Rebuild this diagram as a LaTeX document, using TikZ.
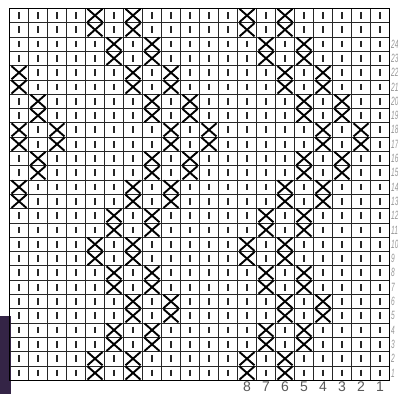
\documentclass[tikz,border=0pt]{standalone}
\usepackage{fontspec}
\setsansfont{Liberation Sans}
\usepackage{xcolor}
\usetikzlibrary{calc}
\definecolor{manchaEscura}{RGB}{52,36,70}
\tikzset{
    grade/.style={line width=0.6pt, draw=black!85},
    moldura/.style={line width=1pt, draw=black},
    traco/.style={line width=2.2pt, draw=black!85},
    cruz/.style={line width=1.9pt, draw=black},
    numeroBase/.style={
        font=\sffamily\fontsize{14}{14}\selectfont,
        text=black!65,
        inner sep=0pt,
        anchor=north
    },
    numeroLado/.style={
        font=\sffamily\itshape\fontsize{12}{12}\selectfont,
        text=black!40,
        inner sep=0pt,
        anchor=west
    }
}
% cell size of the chart
\newcommand{\largCel}{19}
\newcommand{\altCel}{14.3}

\begin{document}
\begin{tikzpicture}[x=1pt, y=-1pt]
    \useasboundingbox (0,0) rectangle (398,394);
    \coordinate (canto) at (9.5,8.3);
    % dark smear in the corner of the scan
    \fill[manchaEscura] (0,316) rectangle (10.5,394);
    % which cells of each pair of rows carry a cross
    \foreach \k/\cols in {1/{5,7,13,15}, 2/{6,8,14,16}, 3/{1,7,9,15,17},
                          4/{2,8,10,16,18}, 5/{1,3,9,11,17,19}, 6/{2,8,10,16,18},
                          7/{1,7,9,15,17}, 8/{6,8,14,16}, 9/{5,7,13,15},
                          10/{6,8,14,16}, 11/{7,9,15,17}, 12/{6,8,14,16},
                          13/{5,7,13,15}} {
        \foreach \c in \cols {
            \expandafter\xdef\csname cruz-\k-\c\endcsname{1}
        }
    }
    % grid
    \foreach \c in {1,...,19}
        \draw[grade] ($(canto)+(\c*\largCel,0)$) -- ++(0,26*\altCel);
    \foreach \r in {1,...,25}
        \draw[grade] ($(canto)+(0,\r*\altCel)$) -- ++(20*\largCel,0);
    \draw[moldura] (canto) rectangle ++(20*\largCel,26*\altCel);
    % stitches
    \foreach \r in {1,...,26} {
        \foreach \c in {1,...,20} {
            \pgfmathtruncatemacro{\k}{(\r+1)/2}
            \coordinate (m) at ($(canto)+({(\c-0.5)*\largCel},{(\r-0.5)*\altCel})$);
            \ifcsname cruz-\k-\c\endcsname
                \draw[cruz] ($(m)+(-7.5,-6.6)$) -- ($(m)+(7.5,6.6)$);
                \draw[cruz] ($(m)+(-7.5,6.6)$) -- ($(m)+(7.5,-6.6)$);
            \else
                \draw[traco] ($(m)+(0,-3.4)$) -- ($(m)+(0,3.4)$);
            \fi
        }
    }
    % stitch numbers below
    \foreach \n in {1,...,8}
        \node[numeroBase] (base-\n) at ($(canto)+({(20.5-\n)*\largCel},26*\altCel+1.8)$) {\n};
    % row numbers on the right, squeezed into the margin
    \foreach \n in {1,...,24}
        \node[numeroLado] (lado-\n) at ($(canto)+(20*\largCel+1.5,{(26.5-\n)*\altCel})$)
            {\scalebox{0.55}[1]{\n}};
\end{tikzpicture}
\end{document}
